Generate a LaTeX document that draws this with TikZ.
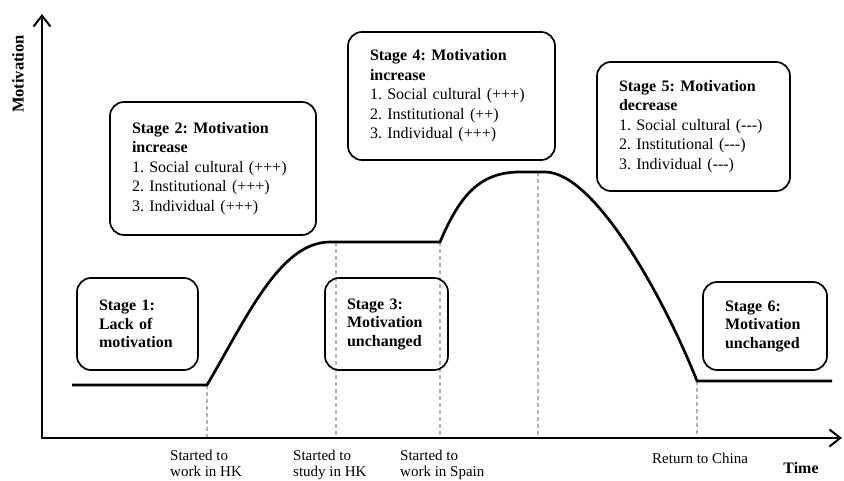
\documentclass[tikz,border=0pt]{standalone}
\usepackage{fontspec}
\setmainfont{Liberation Serif}
\usetikzlibrary{arrows.meta}
\frenchspacing

\begin{document}
\begin{tikzpicture}[x=1pt,y=-1pt,
  stagebox/.style={draw,line width=1.7pt,rounded corners=14pt,align=left,inner xsep=22pt,inner ysep=0pt,font=\fontsize{16}{19.5}\selectfont},
  shortbox/.style={stagebox,font=\bfseries\fontsize{16}{18.5}\selectfont},
  axis/.style={line width=2.4pt,{Straight Barb[length=11pt,width=17pt,line width=2pt]}-{Straight Barb[length=11pt,width=17pt,line width=2pt]}},
  curve/.style={line width=2.7pt,line join=round},
  guide/.style={gray!60,line width=1.1pt,dash pattern=on 4pt off 3pt},
  tick/.style={font=\fontsize{15}{15.5}\selectfont,align=left,anchor=north west,inner sep=0pt}]
  \useasboundingbox (0,0) rectangle (844,481);
  \coordinate (o) at (42,438);
  \coordinate (ytop) at (42,14);
  \coordinate (xend) at (842,438);
  \coordinate (c0) at (72,385);
  \coordinate (t1) at (207,385);
  \coordinate (t2) at (336,242);
  \coordinate (t3) at (440,242);
  \coordinate (t4) at (538,172);
  \coordinate (t5) at (697,381);
  \coordinate (c9) at (832,381);
  % time marks
  \foreach \t in {t1,t2,t3,t4,t5}
    \draw [guide] (\t) -- (\t |- o);
  \draw [axis] (ytop) -- (o) -- (xend);
  % motivation line
  \draw [curve] (c0) -- (t1) .. controls (247,317) and (280,242) .. (330,242) -- (t3)
    .. controls (460,195) and (480,172) .. (520,172) -- (545,172)
    .. controls (595,172) and (665,300) .. (t5) -- (c9);
  \node [rotate=90,font=\bfseries\fontsize{16.5}{18}\selectfont] (ylab) at (18,74) {Motivation};
  \node [font=\bfseries\fontsize{16}{18}\selectfont] (xlab) at (801,468) {Time};
  \node [tick] (l1) at (170,450) {Started to\\work in HK};
  \node [tick] (l2) at (293,450) {Started to\\study in HK};
  \node [tick] (l3) at (400,450) {Started to\\work in Spain};
  \node [tick,anchor=west] (l4) at (652,458) {Return to China};
  % stages
  \node [shortbox,text width=77pt,minimum height=92pt] (s1) at (137.5,324)
    {Stage 1:\\Lack of\\motivation};
  \node [stagebox,text width=162pt,minimum height=133pt] (s2) at (213,168.5)
    {{\bfseries Stage 2: Motivation\\increase}\\1. Social cultural (+++)\\2. Institutional (+++)\\3. Individual (+++)};
  \node [shortbox,text width=79pt,minimum height=92pt] (s3) at (386.5,324)
    {Stage 3:\\Motivation\\unchanged};
  \node [stagebox,text width=163pt,minimum height=128pt] (s4) at (451.5,96)
    {{\bfseries Stage 4: Motivation\\increase}\\1. Social cultural (+++)\\2. Institutional (++)\\3. Individual (+++)};
  \node [stagebox,text width=149pt,minimum height=129pt] (s5) at (693.5,126.5)
    {{\bfseries Stage 5: Motivation\\decrease}\\1. Social cultural (-{}-{}-)\\2. Institutional (-{}-{}-)\\3. Individual (-{}-{}-)};
  \node [shortbox,text width=80pt,minimum height=88pt] (s6) at (765,326)
    {Stage 6:\\Motivation\\unchanged};
\end{tikzpicture}
\end{document}
